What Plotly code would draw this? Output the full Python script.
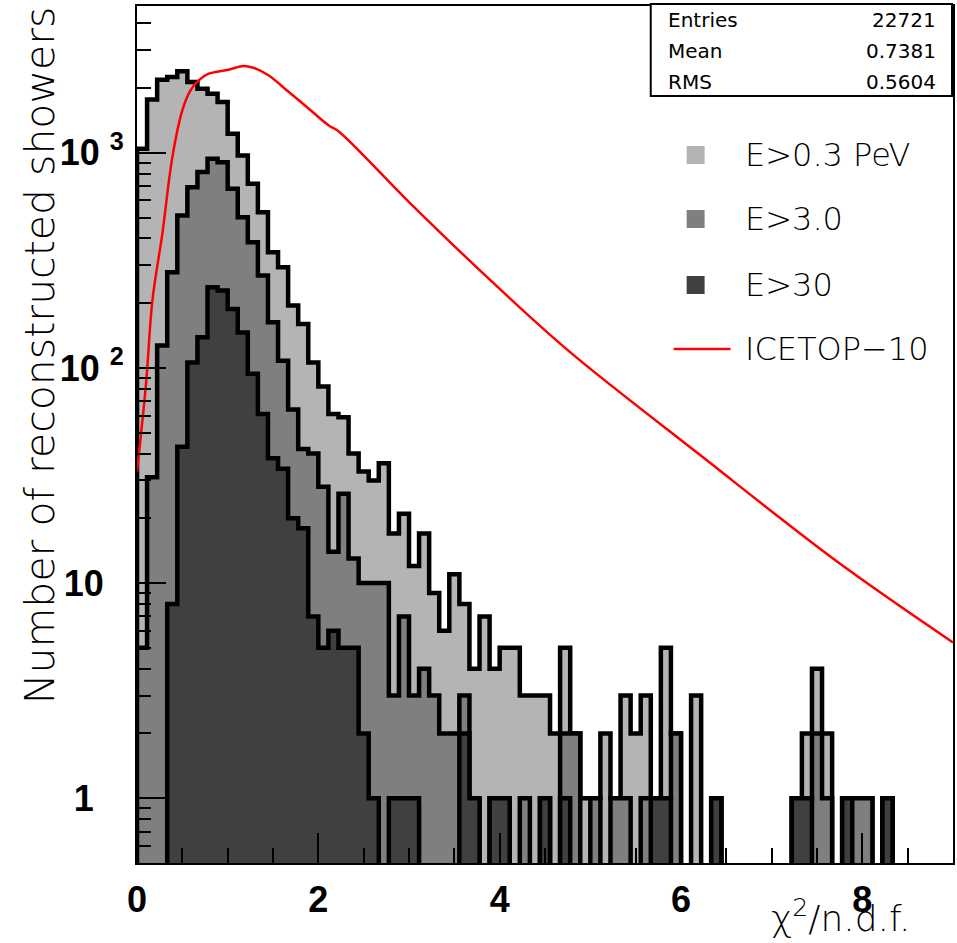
import plotly.graph_objects as go

# ---------------- data ----------------
NBINS = 81
XMIN, XMAX = 0.0, 9.0

# E > 0.3 PeV
e_03 = [1044, 1770, 2186, 2249, 2389, 2130, 1985, 1880, 1720, 1225,
        971, 718, 529, 345, 294, 195, 160, 106, 82, 61,
        59, 40, 33, 30, 36, 17, 21, 12, 17, 9,
        6, 11, 8, 4, 7, 4, 5, 5, 3, 3,
        3, 2, 5, 2, 1, 1, 2, 1, 3, 2,
        3, 1, 5, 2, 0, 3, 0, 1, 0, 0,
        0, 0, 0, 0, 0, 1, 2, 4, 2, 0,
        1, 1, 1, 0, 1, 0, 0, 0, 0, 0, 0]
# E > 3.0
e_3 = [5, 31, 127, 278, 511, 692, 813, 938, 903, 680,
       502, 384, 269, 163, 108, 64, 42, 40, 28, 14,
       26, 13, 10, 10, 10, 3, 7, 3, 4, 3,
       2, 2, 3, 1, 0, 1, 1, 0, 1, 0,
       1, 0, 2, 2, 0, 1, 0, 1, 1, 0,
       1, 1, 1, 2, 0, 0, 0, 1, 0, 0,
       0, 0, 0, 0, 0, 1, 1, 2, 1, 0,
       1, 1, 1, 0, 1, 0, 0, 0, 0, 0, 0]
# E > 30
e_30 = [0, 0, 0, 8, 43, 106, 139, 237, 229, 188,
        146, 94, 61, 38, 34, 20, 18, 7, 5, 6,
        5, 5, 2, 1, 0, 1, 1, 1, 0, 0,
        0, 0, 2, 1, 0, 1, 1, 0, 0, 0,
        1, 0, 1, 0, 0, 0, 0, 0, 0, 0,
        0, 1, 1, 0, 0, 0, 0, 1, 0, 0,
        0, 0, 0, 0, 0, 1, 1, 0, 0, 0,
        1, 0, 0, 0, 1, 0, 0, 0, 0, 0, 0]

# ICETOP-10 curve
ice_x = [0.0, 0.1, 0.17, 0.28, 0.39, 0.5, 0.59, 0.68, 0.79, 1.01, 1.18, 1.31,
         1.45, 1.675, 1.895, 2.115, 2.225, 3.0, 3.9, 4.76, 6.19, 7.71, 9.0]
ice_y = [33, 85, 206, 422, 954, 1574, 1950, 2170, 2330, 2433, 2530, 2459,
         2290, 1914, 1602, 1339, 1256, 590, 255, 120, 40, 12.7, 5.3]

legend_labels = ["E>0.3 PeV", "E>3.0", "E>30", "ICETOP\u221210"]
stats_names = ["Entries", "Mean", "RMS"]
stats_values = ["22721", "0.7381", "0.5604"]

x_tickvals = [0, 2, 4, 6, 8]
y_tickvals = [1, 10, 100, 1000]
y_ticktext = ["1" + "\u00a0" * 3, "10" + "\u00a0" * 2, "10 <sup>2</sup>", "10 <sup>3</sup>"]
y_minor = [0.6, 0.7, 0.8, 0.9] + [m * 10 ** d for d in range(0, 4) for m in range(2, 10) if m * 10 ** d < 4800]

# ---------------- styles ----------------
C_LIGHT = "#b4b4b4"
C_MID = "#7f7f7f"
C_DARK = "#404040"
YMIN_LOG = -0.301
YMAX_LOG = 3.682
FLOOR = 0.2

W, H = 957, 943
L, R, T, B = 137, 2, 6, 80
PW, PH = W - L - R, H - T - B


def px2paper(px, py):
    return (px - L) / PW, (H - B - py) / PH


edges = [XMIN + i * (XMAX - XMIN) / NBINS for i in range(NBINS + 1)]


def step_poly(vals):
    xs, ys = [edges[0]], [FLOOR]
    for i, v in enumerate(vals):
        y = v if v > 0 else FLOOR
        xs += [edges[i], edges[i + 1]]
        ys += [y, y]
    xs.append(edges[-1])
    ys.append(FLOOR)
    return xs, ys


fig = go.Figure()
for vals, col in [(e_03, C_LIGHT), (e_3, C_MID), (e_30, C_DARK)]:
    xs, ys = step_poly(vals)
    fig.add_trace(go.Scatter(x=xs, y=ys, mode="lines", fill="toself", fillcolor=col,
                             line=dict(color="black", width=4.5), showlegend=False,
                             hoverinfo="skip"))

fig.add_trace(go.Scatter(x=ice_x, y=ice_y, mode="lines",
                         line=dict(color="#ff0000", width=2.5, shape="spline", smoothing=1.0),
                         showlegend=False, hoverinfo="skip"))

# dummy trace for minor-tick overlay axis
fig.add_trace(go.Scatter(x=[None], y=[None], yaxis="y2", showlegend=False, hoverinfo="skip"))

tickfont = dict(family="Liberation Sans", size=36, color="black", weight="bold")

fig.update_layout(
    width=W, height=H,
    margin=dict(l=L, r=R, t=T, b=B),
    paper_bgcolor="white", plot_bgcolor="white",
    xaxis=dict(range=[XMIN, XMAX], showgrid=False, zeroline=False,
               showline=True, linecolor="black", linewidth=2, mirror=True,
               ticks="inside", ticklen=30, tickwidth=1.5, tickcolor="black",
               tickvals=x_tickvals, ticktext=[str(v) for v in x_tickvals],
               tickfont=tickfont, ticklabelstandoff=4,
               minor=dict(ticks="inside", ticklen=15, tickwidth=1.5, dtick=0.5,
                          tick0=0, tickcolor="black", showgrid=False)),
    yaxis=dict(type="log", range=[YMIN_LOG, YMAX_LOG], showgrid=False, zeroline=False,
               showline=True, linecolor="black", linewidth=2, mirror=True,
               ticks="inside", ticklen=29, tickwidth=1.5, tickcolor="black",
               tickvals=y_tickvals, ticktext=y_ticktext, tickfont=tickfont,
               ticklabelstandoff=4),
    yaxis2=dict(type="log", range=[YMIN_LOG, YMAX_LOG], overlaying="y", side="left",
                showgrid=False, zeroline=False, showline=False,
                ticks="inside", ticklen=14, tickwidth=1.5, tickcolor="black",
                tickvals=y_minor, showticklabels=False),
)

shapes = []
annotations = []

# legend
leg_y = [155, 219, 285, 349]
for lab, col, yy in zip(legend_labels[:3], [C_LIGHT, C_MID, C_DARK], leg_y[:3]):
    x0, y0 = px2paper(688, yy + 9)
    x1, y1 = px2paper(706, yy - 9)
    shapes.append(dict(type="rect", xref="paper", yref="paper", x0=x0, x1=x1, y0=y0, y1=y1,
                       fillcolor=col, line=dict(width=0)))
lx0, ly = px2paper(675, leg_y[3])
lx1, _ = px2paper(732, leg_y[3])
shapes.append(dict(type="line", xref="paper", yref="paper", x0=lx0, x1=lx1, y0=ly, y1=ly,
                   line=dict(color="#ff0000", width=2.5)))
for lab, yy in zip(legend_labels, leg_y):
    ax, ay = px2paper(744, yy)
    annotations.append(dict(text=lab, xref="paper", yref="paper", x=ax, y=ay,
                            xanchor="left", yanchor="middle", showarrow=False,
                            font=dict(family="DejaVu Sans", size=32, color="black", weight=300)))

# stats box
bx0, by0 = px2paper(652, 96)
bx1, by1 = px2paper(954, 4)
shapes.append(dict(type="rect", xref="paper", yref="paper", x0=bx0, x1=bx1, y0=by0, y1=by1,
                   fillcolor="white", line=dict(color="black", width=2)))
for name, val, yy in zip(stats_names, stats_values, [20, 51, 82]):
    ax, ay = px2paper(667, yy)
    annotations.append(dict(text=name, xref="paper", yref="paper", x=ax, y=ay,
                            xanchor="left", yanchor="middle", showarrow=False,
                            font=dict(family="DejaVu Sans", size=20, color="black")))
    ax, ay = px2paper(940, yy)
    annotations.append(dict(text=val, xref="paper", yref="paper", x=ax, y=ay,
                            xanchor="right", yanchor="middle", showarrow=False,
                            font=dict(family="DejaVu Sans", size=20, color="black")))

# axis titles
ax, ay = px2paper(40, 355)
annotations.append(dict(text="Number of reconstructed showers", xref="paper", yref="paper",
                        x=ax, y=ay, xanchor="center", yanchor="middle", textangle=-90,
                        showarrow=False,
                        font=dict(family="DejaVu Sans", size=41, color="black", weight=300)))
ax, ay = px2paper(915, 916)
annotations.append(dict(text="\u03c7<sup>2</sup>/n.d.f.", xref="paper", yref="paper",
                        x=ax, y=ay, xanchor="right", yanchor="middle", showarrow=False,
                        font=dict(family="DejaVu Sans", size=36, color="black", weight=300)))

fig.update_layout(shapes=shapes, annotations=annotations)
fig.write_html("out.html")
